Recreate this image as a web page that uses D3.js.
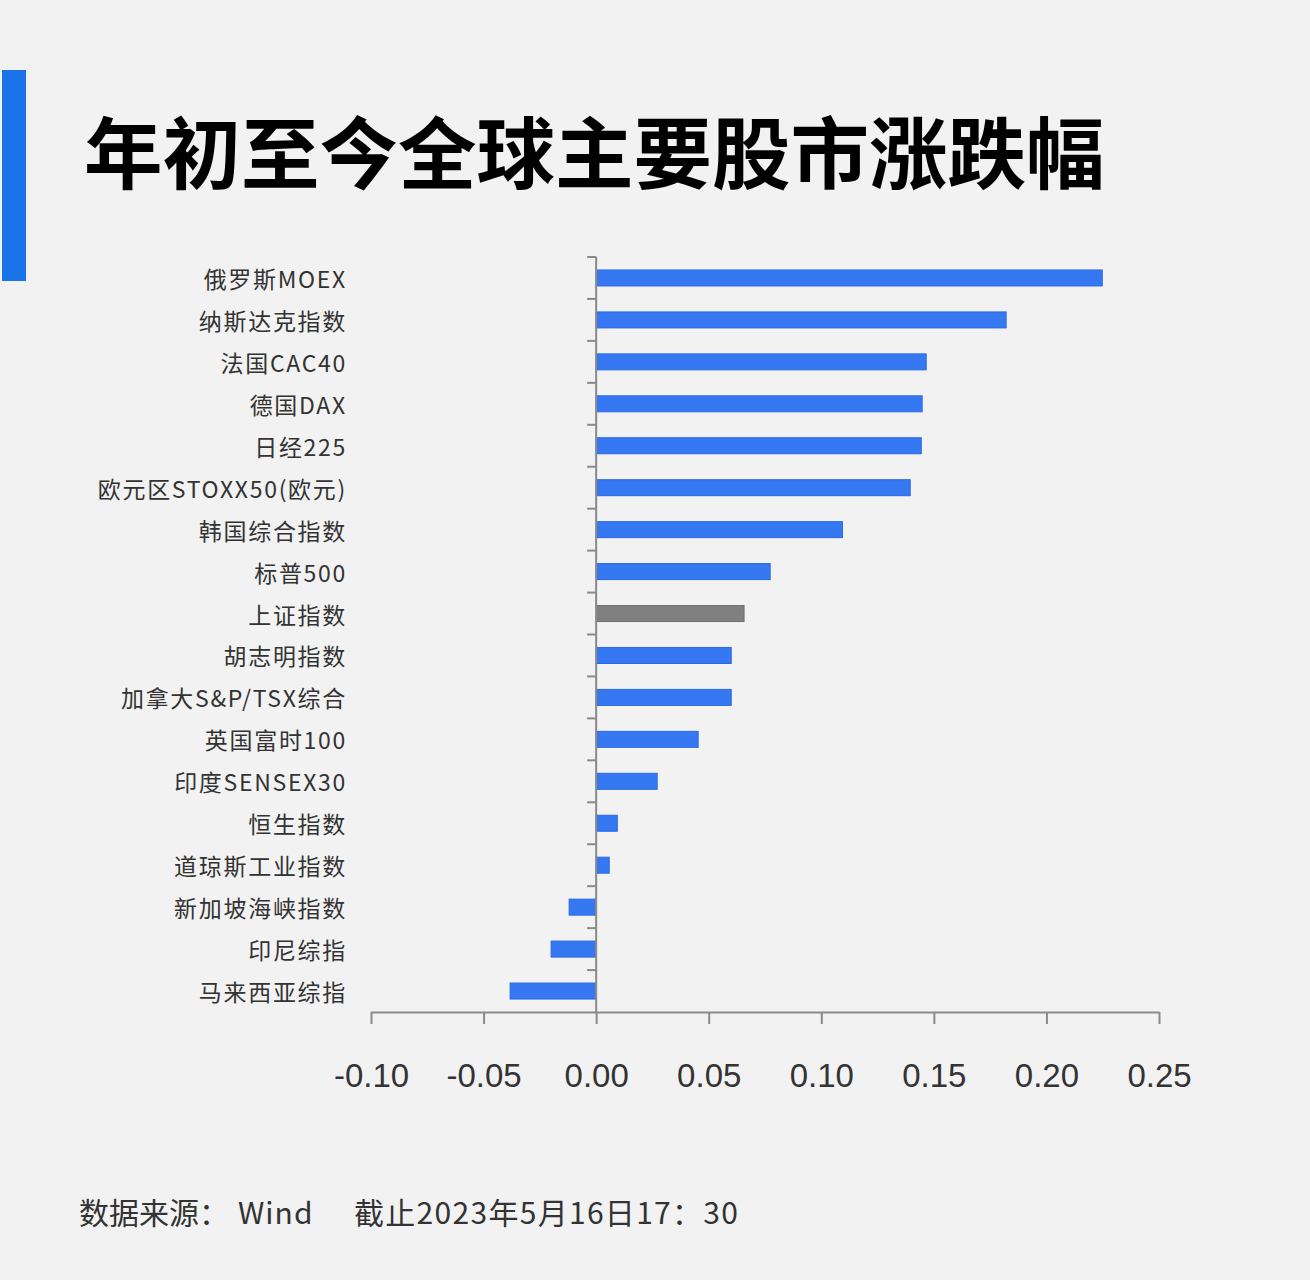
<!DOCTYPE html>
<html><head><meta charset="utf-8">
<script src="https://cdn.jsdelivr.net/npm/d3@7"></script>
<style>
html,body{margin:0;padding:0;background:#f2f2f2;}
svg{display:block;}
</style></head>
<body>
<script>
const categories = ["俄罗斯MOEX","纳斯达克指数","法国CAC40","德国DAX","日经225","欧元区STOXX50(欧元)","韩国综合指数","标普500","上证指数","胡志明指数","加拿大S&P/TSX综合","英国富时100","印度SENSEX30","恒生指数","道琼斯工业指数","新加坡海峡指数","印尼综指","马来西亚综指"];
const values = [0.2248,0.1821,0.1466,0.1448,0.1444,0.1395,0.1094,0.0773,0.0657,0.0600,0.0600,0.0453,0.0271,0.0094,0.0058,-0.0120,-0.0200,-0.0382];
const highlight = ["上证指数"];
const tickValues = [-0.10,-0.05,0.00,0.05,0.10,0.15,0.20,0.25];
const title = "年初至今全球主要股市涨跌幅";
const sourceLabel = "数据来源：";
const sourceName = "Wind";
const dateNote = "截止2023年5月16日17：30";

const W = 1310, H = 1280;
const svg = d3.select("body").append("svg").attr("width", W).attr("height", H);
svg.append("rect").attr("width", W).attr("height", H).attr("fill", "#f2f2f2");

// accent bar
svg.append("rect").attr("x", 2).attr("y", 70).attr("width", 24).attr("height", 211).attr("fill", "#1a73e8");

// title
svg.append("text").attr("x", 84).attr("y", 183)
  .attr("font-family", "'Noto Sans CJK SC','Noto Sans',sans-serif")
  .attr("font-weight", 700).attr("font-size", 78.5).attr("fill", "#000")
  .text(title);

const x = d3.scaleLinear().domain([-0.10, 0.25]).range([371, 1159]);
const yb = d3.scaleBand().domain(categories).range([257, 1012]);

// bars
svg.append("g").selectAll("rect").data(categories).join("rect")
  .attr("x", (d,i) => x(Math.min(0, values[i])))
  .attr("width", (d,i) => Math.abs(x(values[i]) - x(0)))
  .attr("y", d => yb(d) + yb.bandwidth()/2 - 8)
  .attr("height", 16)
  .attr("fill", d => highlight.includes(d) ? "#808080" : "#3678f2")
  .attr("stroke", d => highlight.includes(d) ? "#6e6e6e" : "#2a69e6")
  .attr("stroke-width", 1);

// y axis line with ticks at band boundaries
const yAxisG = svg.append("g");
yAxisG.append("line").attr("x1", x(0)).attr("x2", x(0)).attr("y1", 257).attr("y2", 1012)
  .attr("stroke", "#8a8a8a").attr("stroke-width", 2);
yAxisG.selectAll("line.t").data(categories).join("line").attr("class", "t")
  .attr("x1", x(0) - 9).attr("x2", x(0))
  .attr("y1", d => yb(d)).attr("y2", d => yb(d))
  .attr("stroke", "#8a8a8a").attr("stroke-width", 2);

// category labels
svg.append("g").selectAll("text").data(categories).join("text")
  .attr("x", 347)
  .attr("y", d => yb(d) + yb.bandwidth()/2 + 10)
  .attr("text-anchor", "end")
  .attr("font-family", "'Noto Sans CJK SC','Noto Sans',sans-serif")
  .attr("font-size", 23).attr("letter-spacing", "1.7px").attr("fill", "#333")
  .text(d => d);

// x axis
const fmt = d3.format(".2f");
const xAxis = d3.axisBottom(x).tickValues(tickValues).tickSize(12).tickSizeOuter(0)
  .tickFormat(d => fmt(d).replace("\u2212", "-"));
const xg = svg.append("g").attr("transform", "translate(0,1012)").call(xAxis);
xg.select(".domain").attr("stroke", "#8a8a8a").attr("stroke-width", 2);
xg.selectAll(".tick line").attr("stroke", "#8a8a8a").attr("stroke-width", 2);
xg.selectAll(".tick text")
  .attr("y", 75).attr("dy", null)
  .attr("font-family", "'Liberation Sans',Arial,sans-serif")
  .attr("font-size", 33).attr("fill", "#333");

// footer
const ff = "'Noto Sans CJK SC','Noto Sans',sans-serif";
svg.append("text").attr("x", 79).attr("y", 1224).attr("font-family", ff).attr("font-size", 30).attr("fill", "#333").text(sourceLabel);
svg.append("text").attr("x", 238).attr("y", 1224).attr("font-family", ff).attr("font-size", 30).attr("fill", "#333").attr("letter-spacing", "1px").text(sourceName);
svg.append("text").attr("x", 354).attr("y", 1224).attr("font-family", ff).attr("font-size", 30).attr("fill", "#333").attr("letter-spacing", "1.3px").text(dateNote);
</script>
</body></html>
